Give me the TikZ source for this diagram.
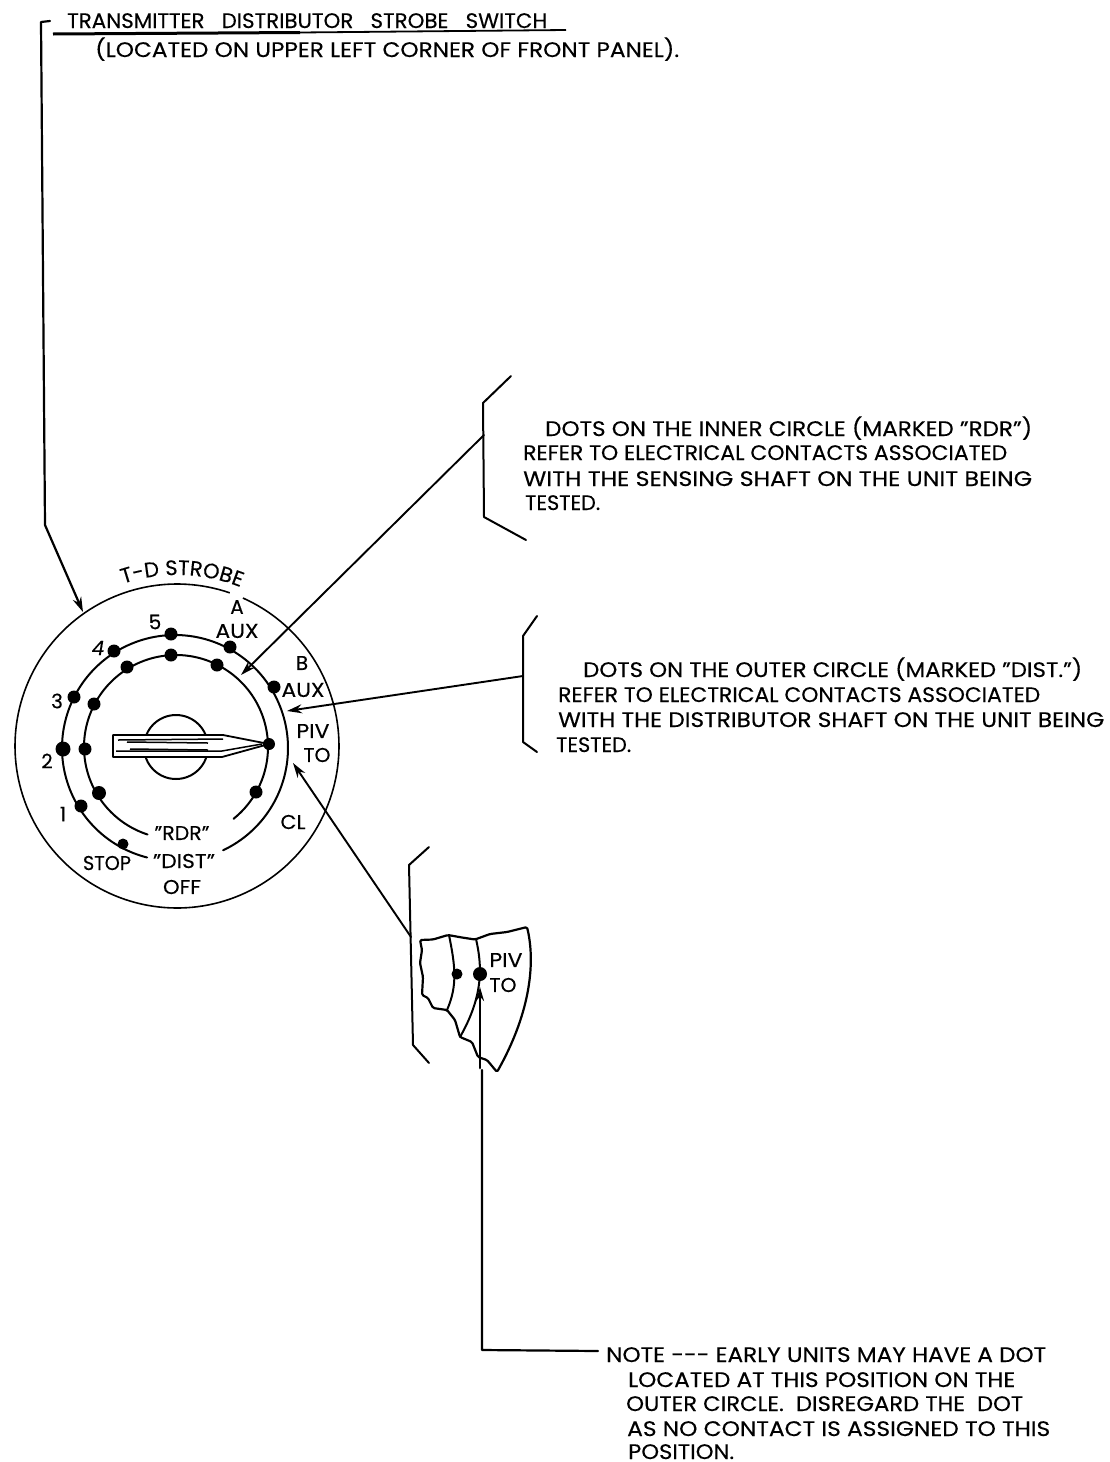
\documentclass[tikz,border=0pt]{standalone}
\usepackage{fontspec}
\usepackage{graphicx}
\setmainfont{Poppins}[FakeBold=0.25]
\usetikzlibrary{arrows.meta,decorations.text}
\newcommand\fitline[2]{\resizebox{#1pt}{\height}{#2}}
\newcommand\bodysize{\fontsize{21}{23}\selectfont}
\newcommand\labsize{\fontsize{20}{22}\selectfont}
\newcommand\strobesize{\fontsize{21}{23}\selectfont}
\tikzset{
  line/.style={line width=2pt,black,line join=round,line cap=round},
  thin line/.style={line width=1.6pt,black,line join=round},
  ptr/.style={line/.try,line width=1.9pt,-{Stealth[length=15pt,width=9pt]}},
  bodytext/.style={inner sep=0pt,anchor=base west,font=\bodysize},
  lab/.style={inner sep=0pt,font=\labsize},
  dot/.style={circle,fill=black,inner sep=0pt,minimum size=13pt},
  bigdot/.style={circle,fill=black,inner sep=0pt,minimum size=15pt}
}
\begin{document}
\begin{tikzpicture}[x=1pt,y=-1pt]
\useasboundingbox[fill=white] (0,0) rectangle (1110,1462);

% heading
\node[bodytext] (h1) at (67,28) {\fitline{480}{TRANSMITTER\ \ \ DISTRIBUTOR\ \ \ STROBE\ \ \ SWITCH}};
\node[bodytext] (h2) at (95,57) {\fitline{584}{(LOCATED ON UPPER LEFT CORNER OF FRONT PANEL).}};
\coordinate (ulL) at (53,34); \coordinate (ulM) at (300,32.5); \coordinate (ulR) at (566,30);
\draw[line width=3pt] (ulL) -- (ulM);
\draw[line width=1.8pt] (ulM) -- (ulR);

% dial
\coordinate (ctr) at (177,747);
\draw[thin line] plot[domain=-66:289,samples=180] ({177+162*cos(\x)},{746+162*sin(\x)});
\draw[line] plot[domain=104.3:424.8,samples=160] ({175+113*cos(\x)},{748+113*sin(\x)});
\draw[line] plot[domain=108:411.3,samples=160] ({176+92*cos(\x)},{747+92*sin(\x)});
\draw[line] (176,747) circle[radius=32];

% pointer
\draw[line width=1.8pt,fill=white,line join=round] (113,735) -- (223,735) -- (269,744) -- (222,757) -- (113,757) -- cycle;
\draw[line width=1.5pt] (118,740) -- (223,739);
\draw[line width=1.5pt] (127,742) -- (208,743);
\draw[line width=1.5pt] (130,749) -- (208,750);
\draw[line width=1.5pt] (116,751) -- (222,751) -- (262,744);

% dots, outer circle
\node[dot] (o5) at (171,634) {};
\node[dot] (oA) at (230,647) {};
\node[dot] (oB) at (274,687) {};
\node[dot] (o4) at (114,651) {};
\node[dot] (o3) at (74,697) {};
\node[bigdot] (o2) at (63,749) {};
\node[dot] (o1) at (81,806) {};
\node[dot,minimum size=11pt] (oS) at (123,844) {};
% dots, inner circle
\node[dot] (i5) at (171,655) {};
\node[dot] (iA) at (217,665) {};
\node[dot] (i4) at (127,667) {};
\node[dot] (i3) at (94,704) {};
\node[dot] (i2) at (85,749) {};
\node[bigdot,minimum size=14pt] (i1) at (99,793) {};
\node[dot] (iC) at (256,792) {};
\node[dot,minimum size=12pt] (iT) at (269,744) {};

% dial labels
\path[decorate,decoration={text along path,text align=center,text={|\strobesize|T-D STROBE}}]
  plot[domain=-128.3:-48.3,samples=81] ({177+172*cos(\x)},{747+172*sin(\x)});
\node[lab] (lA) at (237,607) {A};
\node[lab] (lAa) at (237,631) {\fitline{43}{AUX}};
\node[lab] (lB) at (302,663) {B};
\node[lab] (lBa) at (303,690) {\fitline{43}{AUX}};
\node[lab] (lP) at (313,731) {\fitline{33}{PIV}};
\node[lab] (lT) at (317,755) {\fitline{27}{TO}};
\node[lab] (lC) at (293,822) {\fitline{25}{CL}};
\node[lab] (lR) at (182,833) {\fitline{55}{"RDR"}};
\node[lab] (lD) at (184,861) {\fitline{62}{"DIST"}};
\node[lab] (lO) at (182,887) {\fitline{38}{OFF}};
\node[lab] (lS) at (107,863) {\fitline{48}{STOP}};
\node[lab] (n5) at (155,622) {5};
\node[lab] (n4) at (98,648) {\itshape 4};
\node[lab] (n3) at (57,701) {3};
\node[lab] (n2) at (47,761) {2};
\node[lab] (n1) at (63,814) {1};

% brackets
\coordinate (b1a) at (511,376); \coordinate (b1b) at (483,403); \coordinate (b1c) at (484,517); \coordinate (b1d) at (526,540);
\draw[line] (b1a) -- (b1b) -- (b1c) -- (b1d);
\coordinate (b2a) at (537,616); \coordinate (b2b) at (523,636); \coordinate (b2c) at (523,742); \coordinate (b2d) at (537,752);
\draw[line] (b2a) -- (b2b) -- (b2c) -- (b2d);
\coordinate (b3a) at (429,847); \coordinate (b3b) at (409,865); \coordinate (b3c) at (413,1045); \coordinate (b3d) at (429,1063);
\draw[line] (b3a) -- (b3b) -- (b3c) -- (b3d);

% arrows from brackets to the dial
\coordinate (s1) at (484,435); \coordinate (t1) at (241,675);
\coordinate (s2) at (523,676); \coordinate (t2) at (287,711);
\coordinate (s3) at (411,937); \coordinate (t3) at (293,763);
\draw[ptr] (s1) -- (t1);
\draw[ptr] (s2) -- (t2);
\draw[ptr] (s3) -- (t3);

% leader to the dial from the heading
\coordinate (l0) at (50,21); \coordinate (l1) at (41,22); \coordinate (l2) at (45,525); \coordinate (l3) at (83,612);
\draw[line,line width=2.2pt,-{Stealth[length=15pt,width=9pt]}] (l0) -- (l1) -- (l2) -- (l3);

% cut-away detail
\draw[line,line width=2.2pt,rounded corners=1.5pt]
  (420,940) -- (433,939.5) -- (448,935) -- (462,937.5) -- (475,939.5) -- (490,934) -- (507,932) -- (527,927)
  .. controls (535,960) and (532,1010) .. (497,1072)
  -- (487,1060) -- (478,1057) -- (472,1042) -- (460,1037) -- (455,1020) -- (447,1010) -- (433,1008)
  -- (428,998) -- (422,995) -- (423,977) -- (420,963) -- (422,950) -- cycle;
\draw[line,line width=2pt] (449,935) .. controls (455,965) and (458,985) .. (447,1010);
\draw[line,line width=2pt] (476,939) .. controls (482,965) and (484,995) .. (460,1037);
\node[dot,minimum size=11pt] (cd1) at (457,974) {};
\node[dot,minimum size=14pt] (cd2) at (480,974) {};
\node[lab] (cP) at (506,960) {\fitline{33}{PIV}};
\node[lab] (cT) at (503,985) {\fitline{27}{TO}};

% note leader
\coordinate (n0) at (598,1351); \coordinate (nc) at (482,1350); \coordinate (nb) at (482,1070);
\coordinate (nm) at (480,1068); \coordinate (nt) at (480,987);
\draw[line,line width=2.2pt] (n0) -- (nc) -- (nb);
\draw[line,line width=2.8pt,-{Stealth[length=14pt,width=8pt]}] (nm) -- (nt);

% text block 1
\node[bodytext] (a1) at (545,436) {\fitline{487}{DOTS ON THE INNER CIRCLE (MARKED "RDR")}};
\node[bodytext] (a2) at (523,460) {\fitline{484}{REFER TO ELECTRICAL CONTACTS ASSOCIATED}};
\node[bodytext] (a3) at (523,486) {\fitline{509}{WITH THE SENSING SHAFT ON THE UNIT BEING}};
\node[bodytext] (a4) at (525,510) {\fitline{75}{TESTED.}};
% text block 2
\node[bodytext] (b1) at (583,677) {\fitline{499}{DOTS ON THE OUTER CIRCLE (MARKED "DIST.")}};
\node[bodytext] (b2) at (558,702) {\fitline{482}{REFER TO ELECTRICAL CONTACTS ASSOCIATED}};
\node[bodytext] (b3) at (558,727) {\fitline{546}{WITH THE DISTRIBUTOR SHAFT ON THE UNIT BEING}};
\node[bodytext] (b4) at (556,752) {\fitline{75}{TESTED.}};
% note
\node[bodytext] (c1) at (606,1362) {\fitline{440}{NOTE -{}-{}- EARLY UNITS MAY HAVE A DOT}};
\node[bodytext] (c2) at (628,1387) {\fitline{387}{LOCATED AT THIS POSITION ON THE}};
\node[bodytext] (c3) at (626,1411) {\fitline{397}{OUTER CIRCLE.\ \ DISREGARD THE\ \ DOT}};
\node[bodytext] (c4) at (627,1436) {\fitline{423}{AS NO CONTACT IS ASSIGNED TO THIS}};
\node[bodytext] (c5) at (628,1459) {\fitline{106}{POSITION.}};
\end{tikzpicture}
\end{document}
